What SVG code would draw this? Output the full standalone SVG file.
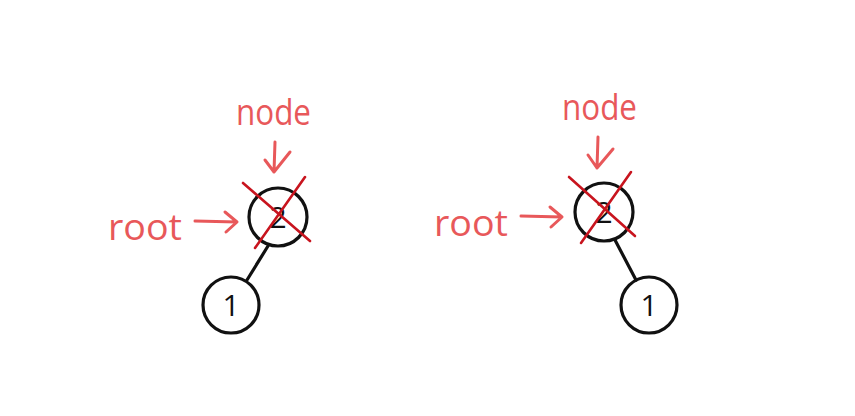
<svg xmlns="http://www.w3.org/2000/svg" width="855" height="416" viewBox="0 0 855 416">
<defs>
<style>
.lbl{font-family:"Open Sans","Noto Sans",sans-serif;font-size:36px;fill:#e8585a}
.num{font-family:"Open Sans","Noto Sans",sans-serif;font-size:30px;fill:#111;text-anchor:middle}
.circ{fill:none;stroke:#111;stroke-width:3.2}
.edge{stroke:#111;stroke-width:3.2;stroke-linecap:round}
.arr{fill:none;stroke:#e8585a;stroke-width:3;stroke-linecap:round;stroke-linejoin:round}
.x{stroke:#c8141e;stroke-width:2.6;stroke-linecap:round}
</style>
</defs>
<rect width="855" height="416" fill="#fff"/>
<g id="connectors">
<line class="edge" x1="268" y1="246" x2="247" y2="280"/>
<line class="edge" x1="615" y1="240" x2="636" y2="280"/>
</g>
<g id="left-node2">
<circle class="circ" cx="278" cy="217" r="29"/>
<text class="num" x="278" y="228">2</text>
</g>
<g id="left-node1">
<circle class="circ" cx="231" cy="305" r="28"/>
<text class="num" x="231" y="316">1</text>
</g>
<g id="right-node2">
<circle class="circ" cx="604" cy="212" r="29"/>
<text class="num" x="604" y="223">2</text>
</g>
<g id="right-node1">
<circle class="circ" cx="649" cy="305" r="28"/>
<text class="num" x="649" y="316">1</text>
</g>
<g id="left-marks">
<line class="x" x1="243" y1="183" x2="310" y2="241"/>
<line class="x" x1="305" y1="177" x2="255" y2="248"/>
<path class="arr" d="M275 142 L274 172 M265 160 L274 172 L290 152"/>
<path class="arr" d="M195 221 L237 222 M225 212 L237 222 L226 232"/>
<text class="lbl" x="236" y="125" textLength="75" lengthAdjust="spacingAndGlyphs">node</text>
<text class="lbl" x="108" y="240" textLength="74" lengthAdjust="spacingAndGlyphs">root</text>
</g>
<g id="right-marks">
<line class="x" x1="569" y1="177" x2="635" y2="236"/>
<line class="x" x1="631" y1="172" x2="581" y2="243"/>
<path class="arr" d="M598 137 L597 168 M588 155 L597 168 L613 149"/>
<path class="arr" d="M521 216 L562 217 M550 207 L562 217 L551 227"/>
<text class="lbl" x="562" y="120" textLength="75" lengthAdjust="spacingAndGlyphs">node</text>
<text class="lbl" x="434" y="236" textLength="74" lengthAdjust="spacingAndGlyphs">root</text>
</g>
</svg>
